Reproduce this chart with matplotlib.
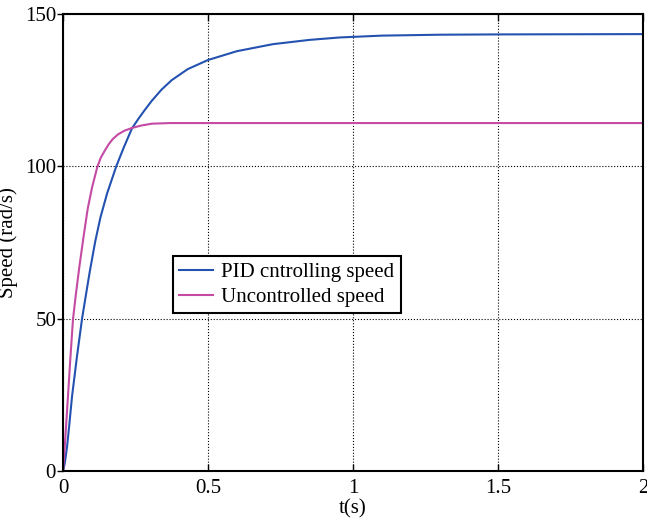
import matplotlib.pyplot as plt

plt.rcParams["font.family"] = ["Liberation Serif", "DejaVu Serif"]

# blue curve (PID)
t_pid = [0, 0.006, 0.014, 0.022, 0.031, 0.048, 0.0655, 0.079, 0.092, 0.111, 0.129, 0.152,
         0.184, 0.21, 0.238, 0.26, 0.282, 0.306, 0.34, 0.375, 0.43,
         0.5, 0.6, 0.724, 0.85, 0.955, 1.1, 1.3, 1.5, 2.0]
y_pid = [0, 2.5, 8, 15.5, 24.4, 37.5, 49.9, 57.8, 65.3, 75.3, 83.2, 91.1,
         100.1, 106.3, 112.5, 115.6, 118.5, 121.5, 125.2, 128.3, 131.9,
         134.9, 137.8, 140.1, 141.5, 142.3, 142.9, 143.2, 143.3, 143.4]

# magenta curve (uncontrolled)
t_unc = [0, 0.006, 0.017, 0.025, 0.0345, 0.045, 0.057, 0.071, 0.085, 0.1, 0.118, 0.13,
         0.145, 0.158, 0.172, 0.19, 0.212, 0.238, 0.27, 0.307, 0.37, 0.5, 1.0, 2.0]
y_unc = [0, 8, 24.4, 36.5, 49.9, 58.5, 67.5, 77, 86, 93, 99.7, 102.8,
         105.3, 107.3, 109, 110.5, 111.7, 112.6, 113.4, 114.0, 114.2, 114.2, 114.2, 114.2]

xticks = [0, 0.5, 1, 1.5, 2]
xtick_labels = ["0", "0.5", "1", "1.5", "2"]
yticks = [0, 50, 100, 150]

fig = plt.figure(figsize=(6.47, 5.26), dpi=100)
ax = fig.add_axes([0.0974, 0.1046, 0.8964, 0.8688])

ax.plot(t_pid, y_pid, color="#2452b0", lw=1.5, label="PID cntrolling speed")
ax.plot(t_unc, y_unc, color="#c44aa3", lw=1.5, label="Uncontrolled speed")

ax.set_xlim(0, 2)
ax.set_ylim(0, 150)
ax.set_xticks(xticks)
ax.set_xticklabels(xtick_labels)
ax.set_yticks(yticks)
ax.grid(True, color="black", linestyle=":", linewidth=0.8)
ax.tick_params(axis="x", direction="in", labelsize=15, length=5, width=1, top=True, pad=6)
ax.tick_params(axis="y", direction="out", labelsize=15, length=4, width=1, pad=1)
for s in ax.spines.values():
    s.set_linewidth(1.5)

ax.set_xlabel("t(s)", fontsize=15, labelpad=1)
ax.set_ylabel("Speed (rad/s)", fontsize=15)
ax.yaxis.set_label_coords(-0.077, 0.5)

leg = ax.legend(loc="upper left", bbox_to_anchor=(0.19, 0.47), borderaxespad=0,
                fontsize=15, fancybox=False, framealpha=1, edgecolor="black",
                handlelength=1.6, borderpad=0.3, labelspacing=0.25, handletextpad=0.4)
leg.get_frame().set_linewidth(1.5)

fig.savefig("out.png", dpi=100)
